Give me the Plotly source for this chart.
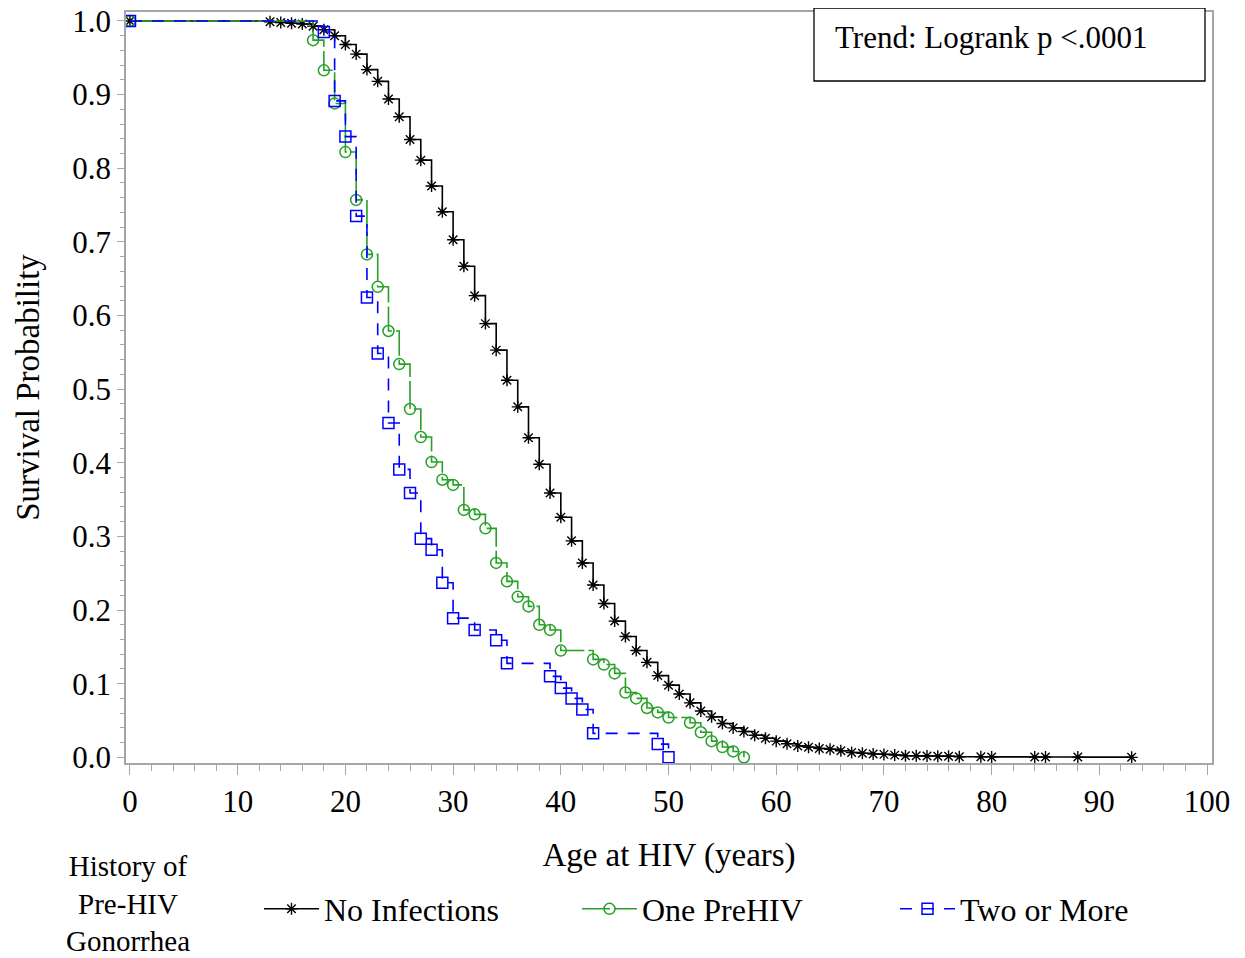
import plotly.graph_objects as go

# ---- data ----
age_none = [0, 13, 14, 15, 16, 17, 18, 19, 20, 21, 22, 23, 24, 25, 26, 27, 28, 29, 30,
            31, 32, 33, 34, 35, 36, 37, 38, 39, 40, 41, 42, 43, 44, 45, 46, 47, 48, 49, 50,
            51, 52, 53, 54, 55, 56, 57, 58, 59, 60, 61, 62, 63, 64, 65, 66, 67, 68, 69, 70,
            71, 72, 73, 74, 75, 76, 77, 79, 80, 84, 85, 88, 93]
surv_none = [1.0, 0.999, 0.998, 0.997, 0.996, 0.993, 0.988, 0.980, 0.968, 0.955, 0.934, 0.918,
             0.894, 0.870, 0.839, 0.811, 0.776, 0.741, 0.703, 0.667, 0.627, 0.589, 0.553,
             0.512, 0.476, 0.434, 0.398, 0.359, 0.326, 0.294, 0.264, 0.234, 0.209, 0.185,
             0.164, 0.145, 0.129, 0.111, 0.098, 0.086, 0.074, 0.063, 0.055, 0.046, 0.040,
             0.035, 0.030, 0.026, 0.022, 0.0185, 0.0155, 0.0136, 0.012, 0.011, 0.009, 0.0065,
             0.0055, 0.0045, 0.004, 0.003, 0.0022, 0.002, 0.0018, 0.0016, 0.0014, 0.0008,
             0.0007, 0.0006, 0.0005, 0.0004, 0.0003, 0.0]

age_one = [0, 17, 18, 19, 20, 21, 22, 23, 24, 25, 26, 27, 28, 29, 30, 31, 32, 33, 34, 35,
           36, 37, 38, 39, 40, 43, 44, 45, 46, 47, 48, 49, 50, 52, 53, 54, 55, 56, 57]
surv_one = [1.0, 0.974, 0.933, 0.888, 0.822, 0.757, 0.683, 0.639, 0.579, 0.534, 0.473, 0.435,
            0.401, 0.377, 0.370, 0.336, 0.330, 0.311, 0.264, 0.239, 0.218, 0.205, 0.180,
            0.173, 0.145, 0.133, 0.126, 0.114, 0.088, 0.080, 0.067, 0.061, 0.054, 0.047,
            0.034, 0.022, 0.014, 0.008, 0.0]

age_two = [0, 18, 19, 20, 21, 22, 23, 24, 25, 26, 27, 28, 29, 30, 32, 34, 35, 39, 40, 41,
           42, 43, 49, 50]
surv_two = [1.0, 0.985, 0.8915, 0.843, 0.735, 0.6245, 0.5485, 0.454, 0.391, 0.359, 0.297,
            0.282, 0.237, 0.189, 0.173, 0.159, 0.1276, 0.110, 0.094, 0.080, 0.065, 0.0326,
            0.018, 0.0]

group_names = ["No Infections", "One PreHIV", "Two or More"]
x_ticks = [0, 10, 20, 30, 40, 50, 60, 70, 80, 90, 100]
y_ticks = [0.0, 0.1, 0.2, 0.3, 0.4, 0.5, 0.6, 0.7, 0.8, 0.9, 1.0]

FONT = "Liberation Serif"
GREEN = "#27A127"
BLUE = "#0000FF"
FRAME = "#A6A6A6"

# page offset of the plotly div (body margin)
OFF = 8
W, H = 1245, 958
# plot-area geometry in page pixels
L, R, T, B = 126, 1212, 12, 763
PW, PH = R - L, B - T

def px(xp):
    return (xp - L) / PW

def py(yp):
    return (B - yp) / PH

fig = go.Figure()
fig.add_trace(go.Scatter(
    x=age_none, y=surv_none, name=group_names[0], mode="lines+markers",
    line=dict(shape="hv", color="black", width=1.6),
    marker=dict(symbol="asterisk-open", size=10, color="black", line=dict(width=1.4, color="black"))))
fig.add_trace(go.Scatter(
    x=age_one, y=surv_one, name=group_names[1], mode="lines+markers",
    line=dict(shape="hv", color=GREEN, width=1.6, dash="28px,4px"),
    marker=dict(symbol="circle-open", size=11, color=GREEN, line=dict(width=1.5, color=GREEN))))
fig.add_trace(go.Scatter(
    x=age_two, y=surv_two, name=group_names[2], mode="lines+markers",
    line=dict(shape="hv", color=BLUE, width=1.6, dash="12px,10px"),
    marker=dict(symbol="square-open", size=11, color=BLUE, line=dict(width=1.5, color=BLUE))))

fig.update_layout(
    width=W, height=H,
    margin=dict(l=L - OFF, r=W - (R - OFF), t=T - OFF, b=H - (B - OFF), autoexpand=False),
    paper_bgcolor="white", plot_bgcolor="white",
    font=dict(family=FONT, color="black", size=31),
    showlegend=True,
    legend=dict(orientation="h", x=px(259), xanchor="left", y=py(909), yanchor="middle",
                font=dict(family=FONT, size=32, color="black"),
                itemwidth=55, entrywidth=248, bgcolor="rgba(0,0,0,0)",
                itemclick=False, tracegroupgap=0),
)

fig.update_xaxes(
    range=[-0.37, 100.46], tickvals=x_ticks, ticktext=[str(v) for v in x_ticks],
    showgrid=False, zeroline=False, showline=True, linecolor=FRAME, linewidth=1.5, mirror=True,
    ticks="outside", ticklen=10, tickwidth=1.3, tickcolor=FRAME,
    minor=dict(dtick=2, tick0=0, ticks="outside", ticklen=6, tickwidth=1.3, tickcolor=FRAME),
    tickfont=dict(family=FONT, size=31), automargin=False, ticklabeloverflow="allow",
    title=dict(text="Age at HIV (years)", font=dict(family=FONT, size=33), standoff=25),
)
fig.update_yaxes(
    range=[-0.0077, 1.0122], tickvals=y_ticks, ticktext=["%.1f" % v for v in y_ticks],
    showgrid=False, zeroline=False, showline=True, linecolor=FRAME, linewidth=1.5, mirror=True,
    ticks="outside", ticklen=7, tickwidth=1.3, tickcolor=FRAME,
    minor=dict(dtick=0.02, tick0=0, ticks="outside", ticklen=4, tickwidth=1.3, tickcolor=FRAME),
    tickfont=dict(family=FONT, size=31), automargin=False, ticklabeloverflow="allow",
    title=dict(text="Survival Probability", font=dict(family=FONT, size=33), standoff=23),
)

# Trend box
fig.add_shape(type="rect", xref="paper", yref="paper",
              x0=px(814), x1=px(1205), y0=py(81), y1=py(8),
              line=dict(color="black", width=1.3), fillcolor="white", layer="above")
fig.add_annotation(text="Trend: Logrank p &lt;.0001", xref="paper", yref="paper",
                   x=px(833), y=py(38), xanchor="left", yanchor="middle",
                   showarrow=False, font=dict(family=FONT, size=31, color="black"))

# Legend title
fig.add_annotation(text="History of<br>Pre-HIV<br>Gonorrhea", xref="paper", yref="paper",
                   x=px(128), y=py(904), xanchor="center", yanchor="middle",
                   align="center", showarrow=False,
                   font=dict(family=FONT, size=29, color="black"))

fig.write_html("out.html")
